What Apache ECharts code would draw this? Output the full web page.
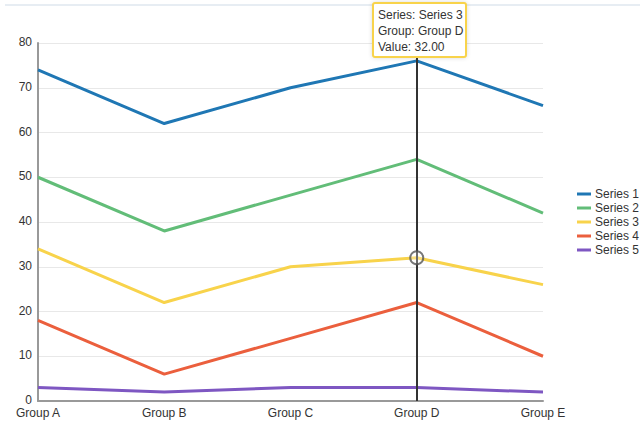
<!DOCTYPE html>
<html>
<head>
<meta charset="utf-8">
<style>
html,body{margin:0;padding:0;background:#fff;}
#topline{position:absolute;left:5px;right:0;top:4px;height:2px;background:#e7edf3;}
#chart{position:absolute;left:0;top:0;width:640px;height:427px;}
</style>
<script src="https://cdn.jsdelivr.net/npm/echarts@6/dist/echarts.min.js"></script>
</head>
<body>
<div id="topline"></div>
<div id="chart"></div>
<script>
const categories = ['Group A', 'Group B', 'Group C', 'Group D', 'Group E'];
const seriesNames = ['Series 1', 'Series 2', 'Series 3', 'Series 4', 'Series 5'];
const series1 = [74, 62, 70, 76, 66];
const series2 = [50, 38, 46, 54, 42];
const series3 = [34, 22, 30, 32, 26];
const series4 = [18, 6, 14, 22, 10];
const series5 = [3, 2, 3, 3, 2];
const yTicks = [0, 10, 20, 30, 40, 50, 60, 70, 80];
const colors = ['#1f77b4', '#62bd78', '#f8d34b', '#eb5f3d', '#7e57c2'];
const hoverSeries = 2;
const hoverIndex = 3;

const FONT = 'Liberation Sans, Arial, sans-serif';
const allData = [series1, series2, series3, series4, series5];
const chart = echarts.init(document.getElementById('chart'), null, {renderer: 'svg'});

const lineSeries = allData.map((d, i) => ({
  name: seriesNames[i],
  type: 'line',
  data: d,
  showSymbol: false,
  symbol: 'none',
  lineStyle: {width: 3, color: colors[i]},
  itemStyle: {color: colors[i]},
  z: 2,
  animation: false
}));

lineSeries.push({
  name: 'pointer',
  type: 'line',
  data: [],
  markLine: {
    silent: true,
    symbol: 'none',
    label: {show: false},
    lineStyle: {color: '#333', width: 2, type: 'solid'},
    data: [[{coord: [categories[hoverIndex], yTicks[yTicks.length - 1]]}, {coord: [categories[hoverIndex], yTicks[0]]}]]
  },
  z: 1,
  animation: false
});

lineSeries.push({
  name: 'hover',
  type: 'scatter',
  data: [[categories[hoverIndex], allData[hoverSeries][hoverIndex]]],
  symbol: 'circle',
  symbolSize: 13,
  itemStyle: {color: 'rgba(255,255,255,0.35)', borderColor: '#555', borderWidth: 2},
  z: 5,
  animation: false
});

chart.setOption({
  animation: false,
  textStyle: {fontFamily: FONT},
  grid: {left: 38, right: 97, top: 43, bottom: 26, containLabel: false},
  legend: {
    orient: 'vertical',
    left: 572,
    top: 183,
    data: seriesNames,
    itemWidth: 14,
    itemHeight: 3,
    itemGap: 2,
    icon: 'rect',
    textStyle: {fontSize: 12, lineHeight: 12, color: '#333', fontFamily: FONT, padding: [0, 0, 0, -1]}
  },
  xAxis: {
    type: 'category',
    boundaryGap: false,
    data: categories,
    axisLine: {lineStyle: {color: '#999', width: 2}},
    axisTick: {show: false},
    axisLabel: {color: '#333', fontSize: 12, lineHeight: 12, margin: 6, fontFamily: FONT},
    splitLine: {show: false}
  },
  yAxis: {
    type: 'value',
    min: yTicks[0],
    max: yTicks[yTicks.length - 1],
    interval: 10,
    axisLine: {show: true, lineStyle: {color: '#999', width: 2}},
    axisTick: {show: false},
    axisLabel: {color: '#333', fontSize: 12, lineHeight: 12, margin: 6, fontFamily: FONT, verticalAlign: 'bottom', padding: [0, 0, -5, 0]},
    splitLine: {lineStyle: {color: '#e8e8e8', width: 1}}
  },
  series: lineSeries,
  graphic: [{
    type: 'rect',
    z: 100,
    shape: {x: 373, y: 3, width: 93, height: 54, r: 2},
    style: {fill: '#fff', stroke: '#f8d34b', lineWidth: 2, shadowBlur: 4, shadowColor: 'rgba(0,0,0,0.15)'}
  }, {
    type: 'text',
    z: 101,
    x: 378,
    y: 7,
    style: {
      text: 'Series: ' + seriesNames[hoverSeries] + '\nGroup: ' + categories[hoverIndex] + '\nValue: ' + allData[hoverSeries][hoverIndex].toFixed(2),
      fontSize: 12,
      lineHeight: 16,
      fill: '#333',
      fontFamily: FONT
    }
  }]
});
</script>
</body>
</html>
